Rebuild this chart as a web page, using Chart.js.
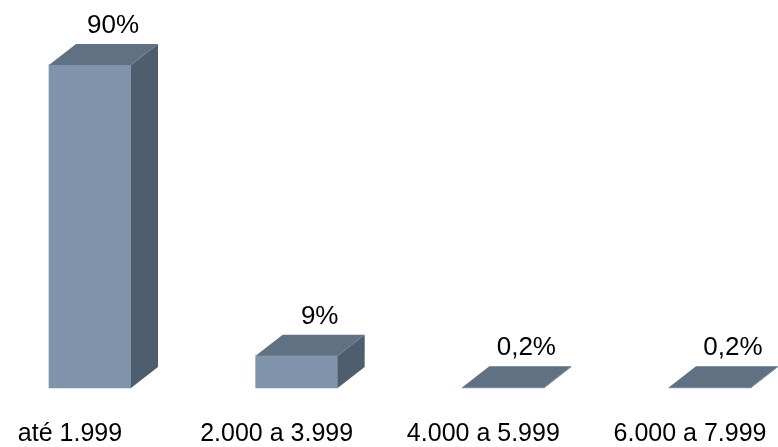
<!DOCTYPE html>
<html>
<head>
<meta charset="utf-8">
<script src="https://cdn.jsdelivr.net/npm/chart.js@4/dist/chart.umd.min.js"></script>
<style>
  html, body { margin: 0; padding: 0; background: #ffffff; }
  canvas { display: block; }
</style>
</head>
<body>
<canvas id="c" width="778" height="447"></canvas>
<script>
const categories = ["até 1.999", "2.000 a 3.999", "4.000 a 5.999", "6.000 a 7.999"];
const shares = [90, 9, 0.2, 0.2];
const shareLabels = ["90%", "9%", "0,2%", "0,2%"];

const FRONT = "#7f94ab";
const TOP = "#5f7183";
const SIDE = "#4f5e6e";
const DX = 27, DY = 21;

const box3d = {
  id: "box3d",
  afterDatasetsDraw(chart) {
    const ctx = chart.ctx;
    const meta = chart.getDatasetMeta(0);
    ctx.save();
    meta.data.forEach((el, i) => {
      const p = el.getProps(["x", "y", "base", "width"], true);
      const l = p.x - p.width / 2, r = p.x + p.width / 2;
      const t = Math.min(p.y, p.base), b = Math.max(p.y, p.base);
      // side face
      ctx.fillStyle = SIDE;
      ctx.beginPath();
      ctx.moveTo(r, t); ctx.lineTo(r + DX, t - DY); ctx.lineTo(r + DX, b - DY); ctx.lineTo(r, b);
      ctx.closePath(); ctx.fill();
      // top face
      ctx.fillStyle = TOP;
      ctx.beginPath();
      ctx.moveTo(l, t); ctx.lineTo(l + DX, t - DY); ctx.lineTo(r + DX, t - DY); ctx.lineTo(r, t);
      ctx.closePath(); ctx.fill();
      // value label
      ctx.fillStyle = "#000000";
      ctx.font = "26px 'Liberation Sans', Arial, sans-serif";
      ctx.textAlign = "center";
      ctx.textBaseline = "middle";
      ctx.fillText(shareLabels[i], p.x + 23, t - DY - 18);
    });
    ctx.restore();
  }
};

new Chart(document.getElementById("c"), {
  type: "bar",
  data: {
    labels: categories,
    datasets: [{
      data: shares,
      backgroundColor: FRONT,
      borderWidth: 0,
      barThickness: 82,
      clip: false
    }]
  },
  options: {
    responsive: false,
    devicePixelRatio: 1,
    animation: false,
    layout: { padding: { left: 90, right: 68, top: 29, bottom: 0 } },
    plugins: { legend: { display: false }, tooltip: { enabled: false } },
    scales: {
      x: {
        type: "category",
        offset: false,
        grid: { display: false, drawTicks: false },
        border: { display: false },
        ticks: {
          color: "#000000",
          font: { family: "'Liberation Sans', Arial, sans-serif", size: 25, lineHeight: 1.0 },
          labelOffset: -20,
          padding: 34,
          maxRotation: 0,
          autoSkip: false
        },
        afterFit(scale) {
          scale.height = 59;
          scale.paddingLeft = 0;
          scale.paddingRight = 0;
          scale.paddingTop = 0;
          scale.paddingBottom = 0;
        }
      },
      y: {
        display: false,
        min: 0,
        max: 100
      }
    }
  },
  plugins: [box3d]
});
</script>
</body>
</html>
